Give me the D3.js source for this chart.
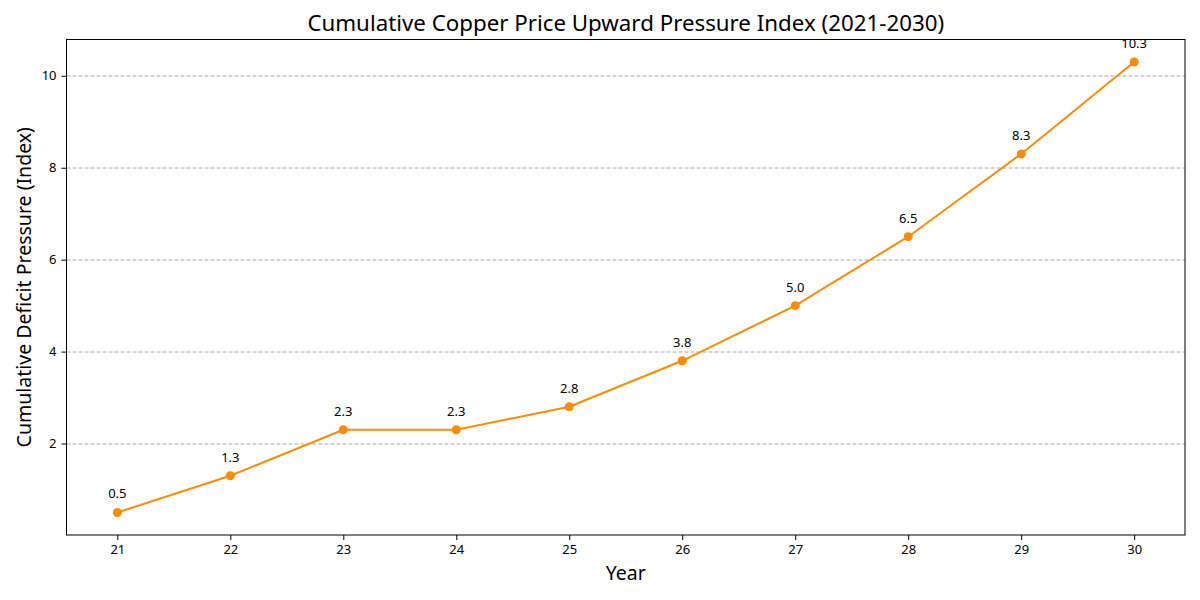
<!DOCTYPE html>
<html>
<head>
<meta charset="utf-8">
<script src="https://cdn.jsdelivr.net/npm/d3@7"></script>
<style>
  body { margin: 0; background: #fff; }
  text { font-family: "Noto Sans", "DejaVu Sans", sans-serif; fill: #000; }
  .tick text { font-size: 13px; }
  .domain { display: none; }
</style>
</head>
<body>
<div id="chart"></div>
<script>
// data
var years = [21, 22, 23, 24, 25, 26, 27, 28, 29, 30];
var pressure = [0.5, 1.3, 2.3, 2.3, 2.8, 3.8, 5.0, 6.5, 8.3, 10.3];
var yTicks = [2, 4, 6, 8, 10];

var svgWidth = 1200, svgHeight = 600;
var margin = { top: 39.5, right: 15, bottom: 65, left: 66.5 };
var width = svgWidth - margin.left - margin.right;
var height = svgHeight - margin.top - margin.bottom;

var svg = d3.select("#chart").append("svg")
  .attr("width", svgWidth)
  .attr("height", svgHeight);

var chartGroup = svg.append("g")
  .attr("transform", `translate(${margin.left}, ${margin.top})`);

// matplotlib-style 5% margins
var xPad = (d3.max(years) - d3.min(years)) * 0.05;
var yPad = (d3.max(pressure) - d3.min(pressure)) * 0.05;

var xScale = d3.scaleLinear()
  .domain([d3.min(years) - xPad, d3.max(years) + xPad])
  .range([0, width]);

var yScale = d3.scaleLinear()
  .domain([d3.min(pressure) - yPad, d3.max(pressure) + yPad])
  .range([height, 0]);

// grid
chartGroup.append("g")
  .selectAll("line")
  .data(yTicks)
  .enter()
  .append("line")
  .attr("x1", 0)
  .attr("x2", width)
  .attr("y1", d => Math.round(yScale(d)) + 0.5)
  .attr("y2", d => Math.round(yScale(d)) + 0.5)
  .attr("stroke", "#aaaaaa")
  .attr("stroke-width", 1)
  .attr("stroke-dasharray", "4,2");

// axes
var bottomAxis = d3.axisBottom(xScale).tickValues(years).tickSize(5).tickPadding(5);
var leftAxis = d3.axisLeft(yScale).tickValues(yTicks).tickSize(5).tickPadding(5);

chartGroup.append("g")
  .attr("transform", `translate(0, ${height})`)
  .call(bottomAxis)
  .selectAll(".tick line").attr("stroke", "#000");

chartGroup.append("g")
  .call(leftAxis)
  .selectAll(".tick line").attr("stroke", "#000");

// frame
chartGroup.append("rect")
  .attr("width", width)
  .attr("height", height)
  .attr("fill", "none")
  .attr("stroke", "#000")
  .attr("stroke-width", 1);

// line + markers
var line = d3.line()
  .x((d, i) => xScale(years[i]))
  .y(d => yScale(d));

chartGroup.append("path")
  .datum(pressure)
  .attr("d", line)
  .attr("fill", "none")
  .attr("stroke", "#ff8c00")
  .attr("stroke-width", 2);

chartGroup.selectAll("circle")
  .data(pressure)
  .enter()
  .append("circle")
  .attr("cx", (d, i) => xScale(years[i]))
  .attr("cy", d => yScale(d))
  .attr("r", 4.5)
  .attr("fill", "#ff8c00");

chartGroup.selectAll(".valueLabel")
  .data(pressure)
  .enter()
  .append("text")
  .attr("class", "valueLabel")
  .attr("x", (d, i) => xScale(years[i]))
  .attr("y", d => yScale(d) - 14)
  .attr("text-anchor", "middle")
  .style("font-size", "13px")
  .text(d => d.toFixed(1));

// title and axis labels
svg.append("text")
  .attr("x", margin.left + width / 2)
  .attr("y", 31)
  .attr("text-anchor", "middle")
  .style("font-size", "22.3px")
  .text("Cumulative Copper Price Upward Pressure Index (2021-2030)");

svg.append("text")
  .attr("x", margin.left + width / 2)
  .attr("y", 580)
  .attr("text-anchor", "middle")
  .style("font-size", "19.5px")
  .text("Year");

svg.append("text")
  .attr("transform", "rotate(-90)")
  .attr("x", -(margin.top + height / 2))
  .attr("y", 31)
  .attr("text-anchor", "middle")
  .style("font-size", "19.5px")
  .text("Cumulative Deficit Pressure (Index)");
</script>
</body>
</html>
